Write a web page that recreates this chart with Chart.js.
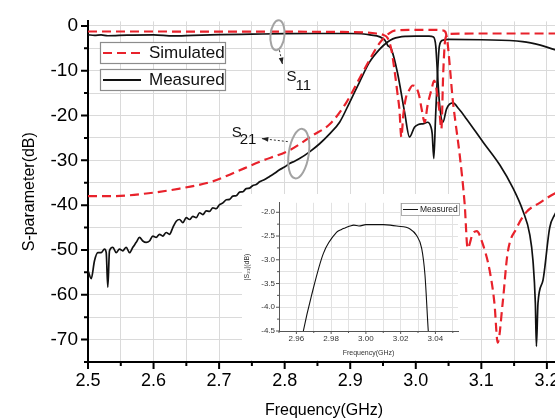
<!DOCTYPE html>
<html>
<head>
<meta charset="utf-8">
<script src="https://cdn.jsdelivr.net/npm/chart.js@4.4.1/dist/chart.umd.min.js"></script>
<style>
  html, body { margin: 0; padding: 0; background: #fff; overflow: hidden; width: 555px; height: 419px; }
  #wrap { position: relative; width: 600px; height: 419px; }
  #main { position: absolute; left: 0; top: 0; }
  #inset { position: absolute; left: 242px; top: 194px; background: #fff; }
</style>
</head>
<body>
<div id="wrap">
  <canvas id="main" width="600" height="419"></canvas>
  <canvas id="inset" width="218" height="166"></canvas>
</div>
<script>
// frequencies in GHz, levels in dB
const simS11Freq = [2.5, 2.6, 2.7, 2.8, 2.88, 2.92, 2.94, 2.95, 2.957, 2.963, 2.968, 2.972, 2.975, 2.978, 2.981, 2.985, 2.9905, 2.995, 3.0, 3.005, 3.009, 3.0135, 3.018, 3.024, 3.028, 3.032, 3.036, 3.039, 3.042, 3.045, 3.05, 3.1, 3.15, 3.22];
const simS11Db = [-1.25, -1.25, -1.3, -1.3, -1.35, -1.45, -1.7, -2.0, -2.7, -5.5, -10.4, -15.0, -18.6, -24.8, -19.8, -16.0, -14.2, -13.3, -13.6, -15.5, -18.6, -21.5, -17.7, -14.2, -12.2, -14.5, -19.0, -23.0, -10.0, -3.0, -1.8, -1.7, -1.7, -1.7];

const simS21Freq = [2.5, 2.537, 2.589, 2.64, 2.69, 2.716, 2.762, 2.808, 2.843, 2.869, 2.8945, 2.919, 2.945, 2.96, 2.97, 3.0, 3.03, 3.04, 3.045, 3.0485, 3.0525, 3.0563, 3.061, 3.067, 3.0746, 3.0791, 3.0868, 3.093, 3.102, 3.1127, 3.12, 3.125, 3.1325, 3.14, 3.154, 3.169, 3.189, 3.212, 3.22];
const simS21Db = [-38.0, -38.0, -37.4, -36.3, -34.7, -33.2, -30.3, -27.7, -24.4, -21.9, -17.0, -10.4, -3.8, -1.6, -1.0, -0.9, -0.9, -1.0, -1.3, -3.8, -10.0, -16.4, -22.0, -28.8, -39.8, -49.6, -46.4, -45.8, -48.6, -54.6, -61.9, -70.7, -61.9, -50.8, -45.1, -41.5, -39.5, -37.4, -37.0];

const measS11Freq = [2.5, 2.51, 2.52, 2.53, 2.56, 2.6, 2.63, 2.66, 2.7, 2.75, 2.8, 2.85, 2.9, 2.93, 2.9525, 2.957, 2.963, 2.972, 2.983, 2.9905, 2.998, 3.004, 3.012, 3.018, 3.023, 3.025, 3.0275, 3.03, 3.032, 3.036, 3.041, 3.05, 3.1, 3.163, 3.19, 3.212, 3.22];
const measS11Db = [-2.0, -2.1, -2.0, -2.2, -2.05, -2.0, -2.25, -2.1, -1.95, -1.85, -1.75, -1.7, -1.7, -2.0, -3.1, -4.3, -5.3, -10.4, -19.3, -24.8, -22.6, -22.0, -21.8, -21.5, -22.5, -24.0, -29.6, -21.0, -14.2, -4.5, -3.2, -3.0, -3.1, -3.5, -4.3, -5.3, -5.6];

const measS21Freq = [2.5, 2.5049, 2.5099, 2.515, 2.52, 2.5252, 2.5278, 2.5302, 2.5328, 2.5379, 2.543, 2.548, 2.553, 2.5583, 2.5633, 2.5684, 2.5736, 2.5786, 2.5836, 2.5888, 2.5938, 2.5989, 2.6041, 2.6091, 2.6141, 2.6193, 2.6244, 2.6294, 2.6346, 2.6396, 2.6447, 2.6499, 2.6549, 2.66, 2.6651, 2.6702, 2.6752, 2.6804, 2.6854, 2.6904, 2.6955, 2.7007, 2.7058, 2.7109, 2.716, 2.721, 2.7261, 2.7312, 2.7363, 2.7414, 2.7465, 2.7515, 2.7566, 2.7617, 2.7694, 2.777, 2.7846, 2.7922, 2.7998, 2.8075, 2.8151, 2.8227, 2.838, 2.8533, 2.8686, 2.8838, 2.899, 2.914, 2.929, 2.945, 2.957, 2.965, 2.975, 2.985, 3.0, 3.02, 3.027, 3.0305, 3.033, 3.0364, 3.0414, 3.047, 3.0567, 3.0655, 3.0771, 3.1025, 3.128, 3.1483, 3.1635, 3.1738, 3.1788, 3.1824, 3.184, 3.1864, 3.194, 3.2043, 3.212, 3.22];
const measS21Db = [-54.6, -56.4, -52.4, -50.6, -50.6, -49.8, -50.6, -58.3, -50.2, -49.4, -50.6, -49.8, -50.2, -49.4, -50.6, -49.4, -48.3, -47.2, -48.0, -48.3, -48.0, -46.9, -47.2, -46.5, -46.9, -46.1, -46.5, -45.0, -43.6, -43.2, -43.9, -42.8, -43.2, -42.5, -42.8, -41.7, -42.1, -41.3, -41.4, -40.6, -40.8, -39.9, -39.5, -38.8, -38.7, -38.0, -37.9, -37.1, -37.0, -36.3, -36.2, -35.6, -35.4, -34.8, -34.3, -33.6, -32.9, -32.1, -31.5, -30.7, -30.2, -29.6, -28.1, -26.3, -24.1, -21.5, -17.1, -12.6, -8.2, -5.2, -3.6, -2.9, -2.5, -2.35, -2.27, -2.3, -2.5, -4.5, -10.4, -17.7, -21.5, -18.5, -17.2, -18.5, -20.7, -25.9, -31.0, -36.2, -41.3, -46.5, -52.4, -61.9, -71.5, -61.9, -56.8, -45.0, -42.1, -40.0];

// inset: measured |S21| in the passband
const insetFreq = [2.962, 2.964, 2.9688, 2.9755, 2.9832, 2.986, 2.988, 2.9909, 2.993, 2.996, 3.0, 3.0043, 3.01, 3.014, 3.0177, 3.0254, 3.0292, 3.0321, 3.034, 3.0359, 3.037];
const insetDb = [-4.9, -4.5, -3.74, -2.87, -2.42, -2.36, -2.33, -2.29, -2.27, -2.29, -2.26, -2.26, -2.26, -2.27, -2.29, -2.35, -2.49, -2.76, -3.32, -4.5, -5.0];

const mainXTicks = [2.5, 2.55, 2.6, 2.65, 2.7, 2.75, 2.8, 2.85, 2.9, 2.95, 3.0, 3.05, 3.1, 3.15, 3.2];
const mainXLabels = [2.5, 2.6, 2.7, 2.8, 2.9, 3.0, 3.1, 3.2];
const mainYTicks = [-75, -70, -65, -60, -55, -50, -45, -40, -35, -30, -25, -20, -15, -10, -5, 0];
const mainYLabels = [-70, -60, -50, -40, -30, -20, -10, 0];
const insetXTicks = [2.95, 2.96, 2.97, 2.98, 2.99, 3.0, 3.01, 3.02, 3.03, 3.04, 3.05];
const insetXLabels = [2.96, 2.98, 3.0, 3.02, 3.04];
const insetYTicks = [-4.5, -4.25, -4.0, -3.75, -3.5, -3.25, -3.0, -2.75, -2.5, -2.25, -2.0];
const insetYLabels = [-4.5, -4.0, -3.5, -3.0, -2.5, -2.0];
const legendNames = ['Simulated', 'Measured'];

const RED = '#e8222b';
const INK = '#111111';
const GRID = '#dadada';
const FONT = '"Liberation Sans", Arial, sans-serif';
Chart.defaults.font.family = FONT;
Chart.defaults.color = '#000';

const toPoints = (xs, ys) => xs.map((x, i) => ({ x: x, y: ys[i] }));
const setTicks = list => scale => { scale.ticks = list.map(v => ({ value: v })); };

function tickMarks(xMajor, yMajor, majorLen, minorLen, color, width) {
  return {
    id: 'tickMarks',
    afterDraw(chart) {
      const { ctx, chartArea, scales: { x, y } } = chart;
      ctx.save();
      ctx.strokeStyle = color;
      ctx.lineWidth = width;
      ctx.beginPath();
      x.ticks.forEach(t => {
        const px = x.getPixelForValue(t.value);
        const len = xMajor.includes(t.value) ? majorLen : minorLen;
        ctx.moveTo(px, chartArea.bottom);
        ctx.lineTo(px, chartArea.bottom + len);
      });
      y.ticks.forEach(t => {
        const py = y.getPixelForValue(t.value);
        const len = yMajor.includes(t.value) ? majorLen : minorLen;
        ctx.moveTo(chartArea.left, py);
        ctx.lineTo(chartArea.left - len, py);
      });
      ctx.stroke();
      ctx.restore();
    }
  };
}

const seriesKey = {
  id: 'seriesKey',
  afterDatasetsDraw(chart) {
    const ctx = chart.ctx;
    const rows = [
      { text: legendNames[0], color: RED, dash: [9, 5], top: 42 },
      { text: legendNames[1], color: INK, dash: [], top: 69 }
    ];
    ctx.save();
    rows.forEach(r => {
      ctx.fillStyle = '#fff';
      ctx.fillRect(100, r.top, 125, 21);
      ctx.strokeStyle = '#8c8c8c';
      ctx.lineWidth = 1.2;
      ctx.strokeRect(100.5, r.top + 0.5, 125, 21);
      ctx.setLineDash(r.dash);
      ctx.strokeStyle = r.color;
      ctx.lineWidth = 2.2;
      ctx.beginPath();
      ctx.moveTo(103, r.top + 11);
      ctx.lineTo(141, r.top + 11);
      ctx.stroke();
      ctx.setLineDash([]);
      ctx.fillStyle = '#111';
      ctx.font = '17px ' + FONT;
      ctx.textBaseline = 'middle';
      ctx.fillText(r.text, 149, r.top + 11.5);
    });
    ctx.restore();
  }
};

function arrow(ctx, x0, y0, x1, y1) {
  ctx.save();
  ctx.strokeStyle = '#333';
  ctx.fillStyle = '#222';
  ctx.lineWidth = 1;
  ctx.setLineDash([2, 2]);
  ctx.beginPath();
  ctx.moveTo(x0, y0);
  ctx.lineTo(x1, y1);
  ctx.stroke();
  ctx.setLineDash([]);
  const a = Math.atan2(y1 - y0, x1 - x0);
  ctx.beginPath();
  ctx.moveTo(x1, y1);
  ctx.lineTo(x1 - 7 * Math.cos(a - 0.35), y1 - 7 * Math.sin(a - 0.35));
  ctx.lineTo(x1 - 7 * Math.cos(a + 0.35), y1 - 7 * Math.sin(a + 0.35));
  ctx.closePath();
  ctx.fill();
  ctx.restore();
}

const callouts = {
  id: 'callouts',
  afterDatasetsDraw(chart) {
    const { ctx, scales: { x, y } } = chart;
    ctx.save();
    ctx.strokeStyle = '#a3a3a3';
    ctx.lineWidth = 2;
    // S11 ring
    const ax = x.getPixelForValue(2.789), ay = y.getPixelForValue(-2.1);
    ctx.beginPath();
    ctx.ellipse(ax, ay, 7, 15, 0.1, 0, Math.PI * 2);
    ctx.stroke();
    // S21 ring
    const bx = x.getPixelForValue(2.8215), by = y.getPixelForValue(-28.5);
    ctx.beginPath();
    ctx.ellipse(bx, by, 10, 25, 0.15, 0, Math.PI * 2);
    ctx.stroke();
    arrow(ctx, ax + 2, ay + 15, ax + 5, ay + 29);
    arrow(ctx, bx - 11, by - 12, bx - 37, by - 15);
    ctx.fillStyle = '#111';
    ctx.font = '15px ' + FONT;
    ctx.textBaseline = 'alphabetic';
    ctx.fillText('S', ax + 9, ay + 46);
    ctx.fillText('11', ax + 18, ay + 55);
    ctx.fillText('S', bx - 67, by - 17);
    ctx.fillText('21', bx - 59, by - 10);
    ctx.restore();
  }
};

const lineStyle = (color, dash, width) => ({
  borderColor: color,
  borderDash: dash,
  borderWidth: width,
  pointRadius: 0,
  fill: false,
  cubicInterpolationMode: 'monotone'
});

new Chart(document.getElementById('main'), {
  type: 'line',
  data: {
    datasets: [
      Object.assign({ label: 'Simulated S21', data: toPoints(simS21Freq, simS21Db) }, lineStyle(RED, [9, 5], 2.2)),
      Object.assign({ label: 'Simulated S11', data: toPoints(simS11Freq, simS11Db) }, lineStyle(RED, [9, 5], 2.2)),
      Object.assign({ label: 'Measured S21', data: toPoints(measS21Freq, measS21Db) }, lineStyle(INK, [], 1.7)),
      Object.assign({ label: 'Measured S11', data: toPoints(measS11Freq, measS11Db) }, lineStyle(INK, [], 1.7))
    ]
  },
  options: {
    responsive: false,
    animation: false,
    layout: { padding: { left: 0, top: 18, right: 40, bottom: 0 } },
    plugins: { legend: { display: false }, tooltip: { enabled: false } },
    scales: {
      x: {
        type: 'linear', min: 2.5, max: 3.22,
        afterBuildTicks: setTicks(mainXTicks),
        afterFit: s => { s.height = 57; },
        ticks: {
          autoSkip: false, maxRotation: 0, padding: 8, color: '#000',
          font: { size: 18 },
          callback: v => mainXLabels.includes(v) ? v.toFixed(1) : ''
        },
        grid: { color: GRID, drawTicks: false },
        border: { color: '#000', width: 2 },
        title: { display: true, text: 'Frequency(GHz)', color: '#000', font: { size: 16 }, padding: { top: 0, bottom: -1 } }
      },
      y: {
        type: 'linear', min: -75, max: 1,
        afterBuildTicks: setTicks(mainYTicks),
        afterFit: s => { s.width = 88; },
        ticks: {
          autoSkip: false, padding: 10, color: '#000',
          font: { size: 19 },
          callback: v => mainYLabels.includes(v) ? String(v) : ''
        },
        grid: { color: GRID, drawTicks: false },
        border: { color: '#000', width: 2 },
        title: { display: true, text: 'S-parameter(dB)', color: '#000', font: { size: 16 }, padding: { top: 20, bottom: 0 } }
      }
    }
  },
  plugins: [seriesKey, callouts, tickMarks(mainXLabels, mainYLabels, 7, 4, '#000', 2)]
});

const insetKey = {
  id: 'insetKey',
  afterDatasetsDraw(chart) {
    const ctx = chart.ctx;
    ctx.save();
    ctx.fillStyle = '#fff';
    ctx.fillRect(159, 9, 58, 12);
    ctx.strokeStyle = '#9a9a9a';
    ctx.lineWidth = 0.8;
    ctx.strokeRect(159.5, 9.5, 58, 12);
    ctx.strokeStyle = INK;
    ctx.lineWidth = 1;
    ctx.beginPath();
    ctx.moveTo(161, 15.5);
    ctx.lineTo(176, 15.5);
    ctx.stroke();
    ctx.fillStyle = '#222';
    ctx.font = '8.5px ' + FONT;
    ctx.textBaseline = 'middle';
    ctx.fillText(legendNames[1], 178, 15.8);
    ctx.restore();
  }
};

new Chart(document.getElementById('inset'), {
  type: 'line',
  data: {
    datasets: [
      Object.assign({ label: 'Measured', data: toPoints(insetFreq, insetDb) }, lineStyle(INK, [], 1.1))
    ]
  },
  options: {
    responsive: false,
    animation: false,
    layout: { padding: { left: 0, top: 6, right: 2, bottom: 0 } },
    plugins: { legend: { display: false }, tooltip: { enabled: false } },
    scales: {
      x: {
        type: 'linear', min: 2.95, max: 3.053,
        afterBuildTicks: setTicks(insetXTicks),
        afterFit: s => { s.height = 29; },
        ticks: {
          autoSkip: false, maxRotation: 0, padding: 3, color: '#333',
          font: { size: 8 },
          callback: v => insetXLabels.includes(v) ? v.toFixed(2) : ''
        },
        grid: { color: '#e2e2e2', drawTicks: false },
        border: { color: '#555', width: 1 },
        title: { display: true, text: 'Frequency(GHz)', color: '#333', font: { size: 7 }, padding: { top: 0, bottom: 3 } }
      },
      y: {
        type: 'linear', min: -4.5, max: -1.8,
        afterBuildTicks: setTicks(insetYTicks),
        afterFit: s => { s.width = 37; },
        ticks: {
          autoSkip: false, padding: 4, color: '#333',
          font: { size: 8 },
          callback: v => insetYLabels.includes(v) ? v.toFixed(1) : ''
        },
        grid: { color: '#e2e2e2', drawTicks: false },
        border: { color: '#555', width: 1 },
        title: { display: true, text: '|S₂₁|(dB)', color: '#333', font: { size: 7 }, padding: { top: 1, bottom: 0 } }
      }
    }
  },
  plugins: [insetKey, tickMarks(insetXLabels, insetYLabels, 3, 2, '#555', 1)]
});
</script>
</body>
</html>
